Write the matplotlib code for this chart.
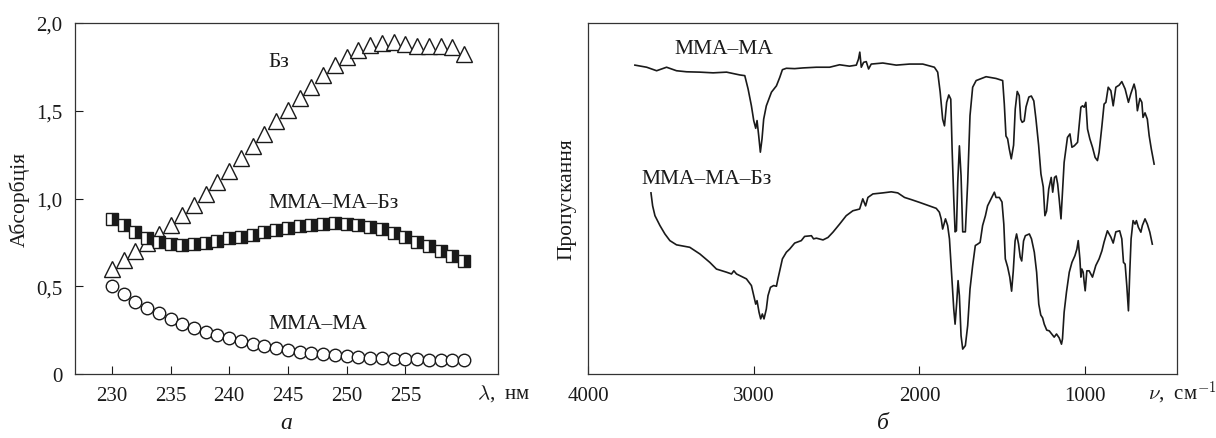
import numpy as np
import matplotlib
matplotlib.use('Agg')
import matplotlib.pyplot as plt

plt.rcParams['font.family'] = 'serif'
plt.rcParams['font.serif'] = ['Liberation Serif', 'DejaVu Serif']
plt.rcParams['mathtext.fontset'] = 'cm'

# --- (a) абсорбція ---
wavelength = np.arange(230, 261)
bz = [0.60, 0.65, 0.70, 0.745, 0.80, 0.85, 0.905, 0.963, 1.026, 1.094,
      1.159, 1.229, 1.30, 1.37, 1.44, 1.504, 1.571, 1.637, 1.704, 1.76,
      1.806, 1.848, 1.875, 1.888, 1.894, 1.88, 1.869, 1.869, 1.869, 1.861, 1.825]
mma_ma_bz = [0.883, 0.849, 0.807, 0.775, 0.75, 0.741, 0.737, 0.741, 0.746, 0.76,
             0.773, 0.782, 0.794, 0.807, 0.82, 0.83, 0.841, 0.849, 0.855, 0.858,
             0.855, 0.851, 0.84, 0.826, 0.803, 0.779, 0.754, 0.727, 0.699, 0.67, 0.642]
mma_ma = [0.503, 0.456, 0.412, 0.376, 0.346, 0.313, 0.285, 0.262, 0.241, 0.222,
          0.203, 0.186, 0.173, 0.16, 0.146, 0.137, 0.127, 0.118, 0.112, 0.106,
          0.10, 0.097, 0.093, 0.089, 0.087, 0.085, 0.084, 0.082, 0.08, 0.08, 0.078]
a_xticks = [230, 235, 240, 245, 250, 255]
a_yticks = [0, 0.5, 1.0, 1.5, 2.0]
a_yticklabels = ['0', '0,5', '1,0', '1,5', '2,0']

# --- (б) ІЧ-спектри ---
wn_top = [3717, 3646, 3586, 3526, 3466, 3405, 3325, 3245, 3164, 3084, 3054, 3034,
          3014, 3000, 2988, 2980, 2970, 2960, 2950, 2940, 2924, 2893, 2863, 2843,
          2827, 2803, 2753, 2703, 2622, 2542, 2482, 2422, 2381, 2368, 2360, 2351,
          2337, 2321, 2307, 2291, 2221, 2140, 2060, 1980, 1910, 1890, 1875, 1860,
          1849, 1836, 1823, 1811, 1803, 1793, 1785, 1777, 1769, 1759, 1749, 1739,
          1723, 1709, 1695, 1679, 1658, 1598, 1538, 1498, 1488, 1478, 1468, 1458,
          1446, 1432, 1422, 1410, 1398, 1389, 1380, 1368, 1357, 1340, 1325, 1310,
          1297, 1281, 1267, 1253, 1243, 1233, 1220, 1205, 1196, 1185, 1175, 1166,
          1157, 1146, 1137, 1127, 1107, 1092, 1080, 1066, 1046, 1026, 1016, 1006,
          996, 986, 972, 956, 940, 926, 916, 899, 886, 875, 861, 845, 831, 815,
          795, 779, 759, 739, 725, 705, 695, 685, 670, 658, 651, 639, 625, 614,
          601, 584]
t_top = [88.0, 87.4, 86.4, 87.4, 86.4, 86.1, 86.0, 85.8, 86.0, 85.2, 85.0, 81.2,
         76.4, 72.2, 70.0, 72.2, 67.9, 63.2, 67.0, 72.6, 76.4, 80.3, 82.1, 84.5,
         86.7, 87.1, 87.0, 87.2, 87.4, 87.4, 88.1, 87.7, 88.0, 89.7, 91.7, 87.4,
         88.8, 89.0, 86.9, 88.3, 88.6, 88.0, 88.3, 88.3, 87.4, 86.0, 80.3, 72.6,
         70.7, 77.4, 79.5, 78.3, 64.1, 49.9, 40.5, 40.8, 54.6, 65.0, 56.5, 40.5,
         40.5, 54.6, 73.6, 81.7, 83.6, 84.7, 84.2, 83.6, 76.9, 67.8, 67.0, 64.1,
         61.3, 65.2, 75.5, 80.5, 79.3, 72.6, 71.7, 72.1, 76.1, 78.9, 79.2, 77.8,
         72.6, 65.2, 57.0, 53.3, 45.1, 46.4, 52.7, 56.0, 51.8, 56.0, 56.4, 54.1,
         49.9, 44.2, 51.8, 60.3, 67.4, 68.4, 64.6, 65.0, 66.0, 76.0, 76.4, 76.0,
         77.4, 69.8, 67.0, 64.6, 61.7, 60.8, 63.2, 70.7, 76.9, 77.4, 81.7, 80.7,
         76.4, 81.7, 82.3, 83.3, 81.2, 77.4, 79.8, 82.6, 80.7, 75.0, 78.5, 77.4,
         73.1, 74.4, 72.6, 67.9, 64.1, 59.8]

wn_bot = [3620, 3610, 3596, 3566, 3536, 3506, 3466, 3386, 3325, 3265, 3225, 3164,
          3134, 3120, 3104, 3044, 3014, 3000, 2988, 2980, 2968, 2958, 2948, 2938,
          2924, 2914, 2899, 2880, 2863, 2854, 2843, 2827, 2803, 2783, 2753, 2713,
          2693, 2652, 2639, 2622, 2582, 2552, 2522, 2482, 2442, 2402, 2361, 2342,
          2325, 2311, 2281, 2221, 2170, 2131, 2090, 2050, 2000, 1940, 1899, 1880,
          1869, 1860, 1843, 1830, 1819, 1805, 1793, 1785, 1775, 1767, 1759, 1749,
          1739, 1723, 1709, 1695, 1679, 1663, 1649, 1634, 1619, 1602, 1589, 1568,
          1548, 1538, 1518, 1502, 1491, 1482, 1468, 1455, 1444, 1434, 1423, 1414,
          1402, 1392, 1383, 1372, 1361, 1337, 1324, 1307, 1293, 1280, 1268, 1257,
          1247, 1232, 1217, 1202, 1187, 1173, 1157, 1143, 1137, 1127, 1113, 1096,
          1080, 1062, 1050, 1042, 1032, 1026, 1020, 1012, 1006, 1000, 990, 976,
          956, 936, 916, 899, 886, 866, 845, 831, 815, 792, 779, 769, 759, 749,
          739, 731, 723, 711, 699, 691, 679, 664, 655, 639, 625, 610, 595]
t_bot = [51.6, 47.9, 45.1, 42.3, 39.9, 38.0, 36.8, 36.1, 34.2, 31.8, 29.9, 29.0,
         28.5, 29.4, 28.5, 27.1, 25.2, 22.3, 19.9, 20.9, 17.6, 15.7, 17.1, 15.7,
         18.5, 22.3, 24.7, 25.2, 25.0, 27.1, 29.4, 32.8, 34.7, 35.6, 37.3, 38.0,
         39.2, 39.4, 38.5, 38.7, 38.2, 38.9, 40.4, 42.7, 45.1, 46.5, 47.0, 49.9,
         47.9, 50.3, 51.3, 51.6, 51.9, 51.6, 50.3, 49.7, 48.9, 47.9, 47.2, 46.1,
         44.2, 41.3, 44.2, 42.3, 38.5, 28.0, 18.5, 14.2, 20.4, 26.6, 22.3, 10.9,
         7.1, 8.1, 13.8, 24.2, 30.9, 36.6, 37.0, 37.5, 42.3, 45.1, 47.9, 49.9,
         51.8, 50.3, 50.3, 49.0, 42.7, 32.8, 30.5, 27.6, 23.6, 29.3, 37.9, 39.9,
         37.0, 33.3, 32.2, 37.9, 39.4, 39.9, 38.5, 34.7, 29.0, 19.9, 16.8, 16.0,
         14.2, 12.5, 12.3, 11.4, 10.5, 11.4, 10.3, 8.5, 10.0, 17.6, 23.3, 29.0,
         31.8, 33.7, 35.6, 38.0, 32.8, 27.6, 29.9, 29.0, 26.1, 23.7, 29.4, 29.4,
         27.6, 30.9, 32.8, 35.1, 37.6, 40.8, 39.0, 37.3, 40.5, 40.8, 38.5, 31.8,
         31.3, 25.2, 18.0, 29.0, 38.5, 43.7, 42.7, 43.7, 41.8, 40.4, 42.3, 44.2,
         42.7, 40.4, 37.0]
b_xticks = [4000, 3000, 2000, 1000]

fig = plt.figure(figsize=(12.16, 4.39), dpi=100)
ax1 = fig.add_axes([75 / 1216, 64 / 439, 423 / 1216, 351 / 439])
ax2 = fig.add_axes([588 / 1216, 64 / 439, 589 / 1216, 351 / 439])

ink = '#1a1a1a'
fs = 15
fs_lab = 15.5

# панель а
ax1.plot(wavelength, bz, linestyle='none', marker='^', markersize=11,
         markerfacecolor='white', markeredgecolor=ink, markeredgewidth=1.0)
ax1.plot(wavelength, mma_ma_bz, linestyle='none', marker='s', markersize=8,
         fillstyle='right', markerfacecolor=ink, markerfacecoloralt='white',
         markeredgecolor=ink, markeredgewidth=1.0)
ax1.plot(wavelength, mma_ma, linestyle='none', marker='o', markersize=9,
         markerfacecolor='white', markeredgecolor=ink, markeredgewidth=1.0)
ax1.set_xlim(226.87, 262.88)
ax1.set_ylim(0, 2.0)
ax1.set_xticks(a_xticks)
ax1.set_yticks(a_yticks)
ax1.set_yticklabels(a_yticklabels)
ax1.set_ylabel('Абсорбція', fontsize=fs_lab, color=ink, labelpad=5)
ax1.text(243.3, 1.78, 'Бз', fontsize=fs_lab, color=ink, va='center')
ax1.text(243.3, 0.98, 'ММА–МА–Бз', fontsize=fs_lab, color=ink, va='center')
ax1.text(243.3, 0.285, 'ММА–МА', fontsize=fs_lab, color=ink, va='center')
ax1.text(0.95, -0.053, r'$\lambda$,  нм', transform=ax1.transAxes,
         fontsize=fs, color=ink, ha='left', va='center')

# панель б
ax2.plot(wn_top, t_top, color=ink, linewidth=1.2)
ax2.plot(wn_bot, t_bot, color=ink, linewidth=1.2)
ax2.set_xlim(4000, 446)
ax2.set_ylim(0, 100)
ax2.set_xticks(b_xticks)
ax2.set_yticks([])
ax2.set_ylabel('Пропускання', fontsize=fs_lab, color=ink, labelpad=8)
ax2.text(3476, 92.6, 'ММА–МА', fontsize=fs_lab, color=ink, va='center')
ax2.text(3676, 55.8, 'ММА–МА–Бз', fontsize=fs_lab, color=ink, va='center')
ax2.text(0.951, -0.053, r'$\nu$,  см$^{-1}$', transform=ax2.transAxes,
         fontsize=fs, color=ink, ha='left', va='center')

for ax in (ax1, ax2):
    ax.tick_params(direction='in', length=6, width=0.8, labelsize=fs,
                   colors=ink, pad=9)
    for s in ax.spines.values():
        s.set_linewidth(0.9)
        s.set_color('#333333')

fig.text(ax1.get_position().x0 + ax1.get_position().width / 2, 0.035, 'а',
         fontsize=fs + 2, style='italic', ha='center', va='center', color=ink)
fig.text(ax2.get_position().x0 + ax2.get_position().width / 2, 0.035, 'б',
         fontsize=fs + 2, style='italic', ha='center', va='center', color=ink)

fig.savefig('out.png', dpi=100)
